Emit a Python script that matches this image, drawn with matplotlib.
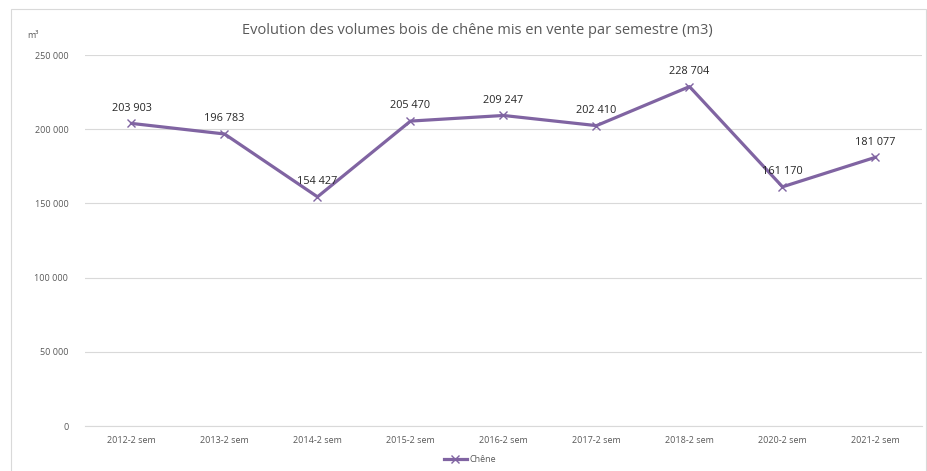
import matplotlib
matplotlib.use("Agg")
import matplotlib.pyplot as plt
from matplotlib.patches import Rectangle

categories = ["2012-2 sem", "2013-2 sem", "2014-2 sem", "2015-2 sem", "2016-2 sem",
              "2017-2 sem", "2018-2 sem", "2020-2 sem", "2021-2 sem"]
values = [203903, 196783, 154427, 205470, 209247, 202410, 228704, 161170, 181077]
yticks = [0, 50000, 100000, 150000, 200000, 250000]

plt.rcParams['font.family'] = ['Open Sans', 'DejaVu Sans']

W, H = 928, 471
fig = plt.figure(figsize=(W / 100, H / 100), dpi=100)
ax = fig.add_axes([85 / W, 1 - 426 / H, (922 - 85) / W, (426 - 55) / H])

color = "#8064A2"
x = list(range(len(categories)))
ax.plot(x, values, color=color, lw=2.3, marker="x", ms=6, mew=1.0, label="Chêne", zorder=3)

def fmt(v):
    return f"{v:,}".replace(",", " ")

for xi, v in zip(x, values):
    ax.annotate(fmt(v), (xi, v), xytext=(0, 7), textcoords="offset points",
                ha="center", va="bottom", fontsize=7.8, color="#262626")

ax.set_xlim(-0.5, len(categories) - 0.5)
ax.set_ylim(0, 250000)
ax.set_yticks(yticks)
ax.set_yticklabels([fmt(v) for v in yticks])
ax.set_xticks(x)
ax.set_xticklabels(categories)
ax.tick_params(axis="both", length=0, labelsize=6.5, colors="#595959")
ax.tick_params(axis="y", pad=12)
ax.tick_params(axis="x", pad=7)
ax.grid(axis="y", color="#D9D9D9", lw=0.8)
ax.set_axisbelow(True)
for s in ["left", "right", "top"]:
    ax.spines[s].set_visible(False)
ax.spines["bottom"].set_color("#D9D9D9")
ax.spines["bottom"].set_linewidth(0.8)

fig.text(477 / W, 1 - 30 / H, "Evolution des volumes bois de chêne mis en vente par semestre (m3)",
         ha="center", va="center", fontsize=10.5, color="#595959")
fig.text(27 / W, 1 - 35 / H, "m³", ha="left", va="center", fontsize=6.5, color="#595959")

leg = fig.legend(loc="center", bbox_to_anchor=(470 / W, 1 - 460 / H), frameon=False,
                 fontsize=6.5, handlelength=2.5, handletextpad=0.3, borderpad=0)
for t in leg.get_texts():
    t.set_color("#595959")

fig.patches.append(Rectangle((11 / W, -0.01), (926 - 11) / W, 1 - 9 / H + 0.01,
                             transform=fig.transFigure, fill=False, ec="#D9D9D9", lw=0.8))

fig.savefig("out.png", dpi=100, facecolor="white")
